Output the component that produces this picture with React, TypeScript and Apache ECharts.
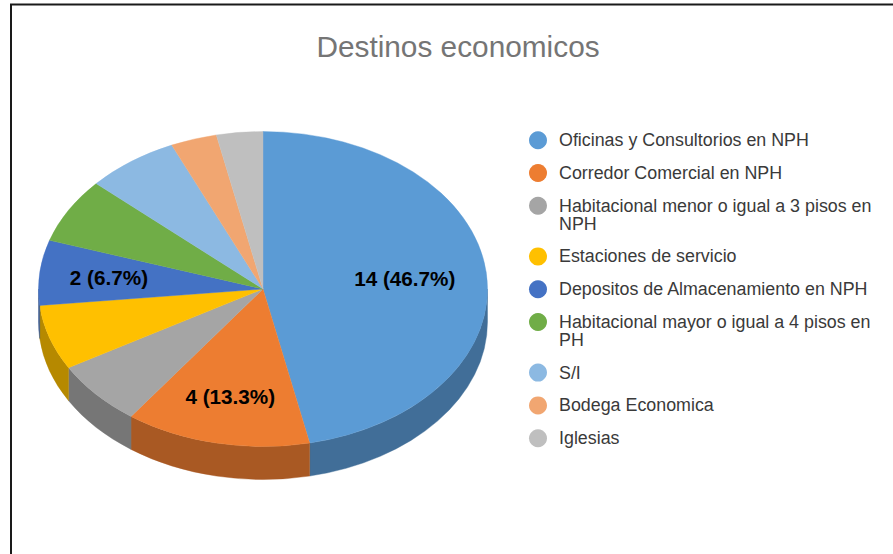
import React, { useEffect, useRef } from "react";
import * as echarts from "echarts";

const titleText = "Destinos economicos";
const categories = [
  "Oficinas y Consultorios en NPH",
  "Corredor Comercial en NPH",
  "Habitacional menor o igual a 3 pisos en NPH",
  "Estaciones de servicio",
  "Depositos de Almacenamiento en NPH",
  "Habitacional mayor o igual a 4 pisos en PH",
  "S/I",
  "Bodega Economica",
  "Iglesias",
];
const legendLines = [
  ["Oficinas y Consultorios en NPH"],
  ["Corredor Comercial en NPH"],
  ["Habitacional menor o igual a 3 pisos en", "NPH"],
  ["Estaciones de servicio"],
  ["Depositos de Almacenamiento en NPH"],
  ["Habitacional mayor o igual a 4 pisos en", "PH"],
  ["S/I"],
  ["Bodega Economica"],
  ["Iglesias"],
];
const values = [14, 4, 2, 2, 2, 2, 2, 1, 1];
const topColors = ["#5B9BD5", "#ED7D31", "#A5A5A5", "#FFC000", "#4472C4", "#70AD47", "#8CB9E2", "#F1A671", "#BFBFBF"];
const sideColors = ["#416E98", "#A95923", "#767676", "#B68900", "#30518C", "#507B32", "#648498", "#AC7650", "#888888"];
// radial position of the label, for the slices that show one
const labelFractions: (number | null)[] = [0.635, 0.7, null, null, 0.69, null, null, null, null];

const total = values.reduce((a, b) => a + b, 0);
const starts = values.map((_, i) => values.slice(0, i).reduce((a, b) => a + b, 0));

const FONT = '"Liberation Sans", Arial, sans-serif';
const CX = 263;
const CY = 289;
const RX = 224.5;
const RY = 157.5;
const DEPTH = 33;

const pt = (deg: number, dy = 0) => {
  const t = (deg * Math.PI) / 180;
  return [CX + RX * Math.sin(t), CY - RY * Math.cos(t) + dy];
};

function renderSlice(params: any, api: any) {
  const i = params.dataIndex;
  const v = api.value(0);
  const s = api.value(1);
  const a0 = (s / total) * 360;
  const a1 = ((s + v) / total) * 360;
  const [x0, y0] = pt(a0);
  const [x1, y1] = pt(a1);
  const large = a1 - a0 > 180 ? 1 : 0;
  const children: any[] = [];

  const b0 = Math.max(a0, 90);
  const b1 = Math.min(a1, 270);
  if (b1 > b0) {
    const [p0x, p0y] = pt(b0);
    const [p1x, p1y] = pt(b1);
    const d =
      `M${p0x} ${p0y}A${RX} ${RY} 0 0 1 ${p1x} ${p1y}` +
      `L${p1x} ${p1y + DEPTH}A${RX} ${RY} 0 0 0 ${p0x} ${p0y + DEPTH}Z`;
    children.push({
      type: "path",
      shape: { pathData: d },
      style: { fill: sideColors[i], stroke: sideColors[i], lineWidth: 0.4 },
    });
  }
  children.push({
    type: "path",
    shape: { pathData: `M${CX} ${CY}L${x0} ${y0}A${RX} ${RY} 0 ${large} 1 ${x1} ${y1}Z` },
    style: { fill: topColors[i], stroke: topColors[i], lineWidth: 0.4 },
  });
  const f = labelFractions[i];
  if (f != null) {
    const mid = ((a0 + a1) / 2) * (Math.PI / 180);
    children.push({
      type: "text",
      z2: 10,
      style: {
        x: CX + RX * f * Math.sin(mid),
        y: CY - RY * f * Math.cos(mid) - 0.5,
        text: `${v} (${((v / total) * 100).toFixed(1)}%)`,
        fill: "#000000",
        font: `bold 20.7px ${FONT}`,
        textAlign: "center",
        textVerticalAlign: "middle",
      },
    });
  }
  return { type: "group", children };
}

const LEGEND_ICON_X = 538;
const LEGEND_TEXT_X = 559;
const LEGEND_TOP = 140.2;
const LEGEND_LINE = 17.8;
const LEGEND_GAP = 15;

function buildLegend() {
  const out: any[] = [];
  let y = LEGEND_TOP;
  legendLines.forEach((lines, i) => {
    out.push({
      type: "circle",
      shape: { cx: LEGEND_ICON_X, cy: y, r: 9 },
      style: { fill: topColors[i] },
    });
    out.push({
      type: "text",
      x: LEGEND_TEXT_X,
      y: y - LEGEND_LINE / 2,
      style: {
        text: lines.join("\n"),
        fill: "#3A3A3A",
        font: `17.85px ${FONT}`,
        lineHeight: LEGEND_LINE,
        textAlign: "left",
        textVerticalAlign: "top",
      },
    });
    y += lines.length * LEGEND_LINE + LEGEND_GAP;
  });
  return out;
}

export default function App() {
  const ref = useRef<HTMLDivElement>(null);
  useEffect(() => {
    const chart = echarts.init(ref.current!, undefined, { renderer: "svg" });
    chart.setOption({
      animation: false,
      backgroundColor: "#FFFFFF",
      title: {
        text: titleText,
        left: 453,
        top: 26,
        textAlign: "center",
        textStyle: { color: "#757575", fontSize: 29.8, fontWeight: "normal", fontFamily: FONT },
      },
      series: [
        {
          type: "custom",
          coordinateSystem: "none",
          renderItem: renderSlice,
          silent: true,
          data: values.map((v, i) => ({ name: categories[i], value: [v, starts[i]] })),
        },
      ],
      graphic: {
        elements: [
          {
            type: "polyline",
            shape: { points: [[11, 560], [11, 4.5], [900, 4.5]] },
            style: { stroke: "#1A1A1A", lineWidth: 2, fill: "none" },
          },
          ...buildLegend(),
        ],
      },
    });
    return () => chart.dispose();
  }, []);
  return <div ref={ref} style={{ position: "fixed", left: 0, top: 0, width: 893, height: 554 }} />;
}
